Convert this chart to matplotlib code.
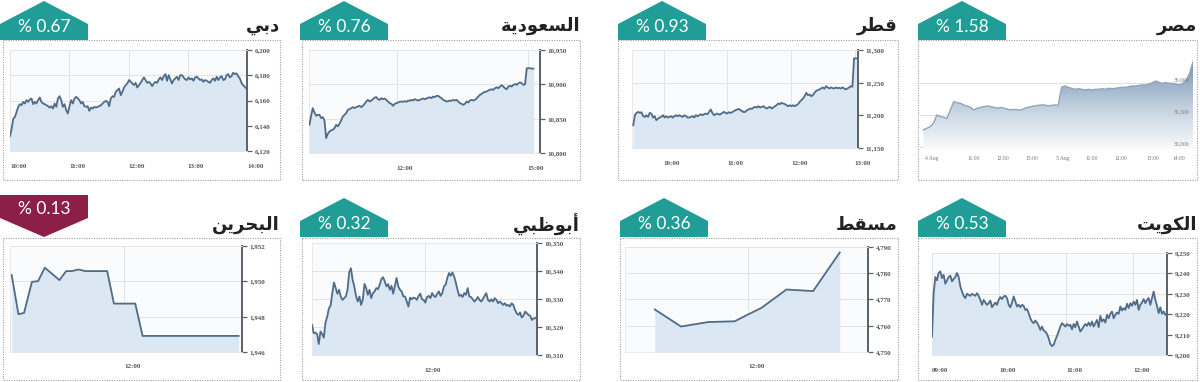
import numpy as np
import matplotlib
matplotlib.use("Agg")
import matplotlib.pyplot as plt
from matplotlib.patches import Polygon, Rectangle, PathPatch
from matplotlib.colors import LinearSegmentedColormap

W, H = 1200, 382

# ---------------- data ----------------
# titles: Arabic presentation forms in visual order (matplotlib does no shaping)
title_dubai = "\uFEF2\uFE91\uFEA9"                                   # دبي
title_saudi = "\uFE94\uFEF3\uFEA9\uFEEE\uFECC\uFEB4\uFEDF\uFE8D"     # السعودية
title_qatar = "\uFEAE\uFEC4\uFED7"                                   # قطر
title_egypt = "\uFEAE\uFEBC\uFEE3"                                   # مصر
title_bahrain = "\uFEE6\uFEF3\uFEAE\uFEA4\uFE92\uFEDF\uFE8D"         # البحرين
title_abudhabi = "\uFEF2\uFE92\uFEC7\uFEEE\uFE91\uFE83"              # أبوظبي
title_muscat = "\uFEC2\uFED8\uFEB4\uFEE3"                            # مسقط
title_kuwait = "\uFE96\uFEF3\uFEEE\uFEDC\uFEDF\uFE8D"                # الكويت

pct_dubai, pct_saudi, pct_qatar, pct_egypt = "% 0.67", "% 0.76", "% 0.93", "% 1.58"
pct_bahrain, pct_abudhabi, pct_muscat, pct_kuwait = "% 0.13", "% 0.32", "% 0.36", "% 0.53"

# Dubai: 10:00 -> ~14:00
dubai_vals = [6131.7, 6137.7, 6145.7, 6147.0, 6151.0, 6155.0, 6157.1, 6156.3, 6158.9, 6157.6,
              6160.3, 6158.9, 6160.8, 6161.6, 6157.1, 6158.9, 6157.6, 6160.3, 6162.4, 6158.9,
              6157.6, 6157.1, 6156.3, 6155.5, 6154.4, 6155.5, 6153.6, 6157.6, 6155.0, 6161.6,
              6163.4, 6160.3, 6155.0, 6157.1, 6152.3, 6149.7, 6155.5, 6160.3, 6157.6, 6161.6,
              6162.9, 6161.6, 6160.3, 6157.6, 6158.9, 6155.5, 6155.0, 6155.5, 6151.8, 6154.4,
              6153.6, 6155.0, 6154.4, 6155.0, 6155.5, 6156.3, 6157.6, 6158.9, 6159.7, 6158.9,
              6155.5, 6161.6, 6163.4, 6162.9, 6166.9, 6168.2, 6169.5, 6164.2, 6166.9, 6170.3,
              6172.2, 6173.5, 6176.2, 6174.8, 6173.5, 6172.2, 6174.0, 6170.3, 6172.2, 6174.0,
              6176.2, 6178.3, 6176.2, 6174.0, 6174.8, 6173.5, 6171.4, 6173.5, 6174.8, 6174.0,
              6176.7, 6178.3, 6176.2, 6179.3, 6180.9, 6175.6, 6180.1, 6176.7, 6173.5, 6176.2,
              6177.5, 6178.8, 6176.2, 6180.1, 6180.1, 6178.3, 6176.7, 6176.2, 6178.3, 6176.7,
              6177.5, 6175.6, 6178.3, 6178.8, 6177.5, 6176.2, 6176.7, 6174.8, 6176.2, 6175.6,
              6174.8, 6174.0, 6176.2, 6177.5, 6175.6, 6178.8, 6176.2, 6178.3, 6179.3, 6176.2,
              6176.7, 6180.1, 6180.9, 6178.3, 6179.3, 6182.0, 6180.9, 6181.5, 6179.3, 6177.5,
              6174.0, 6172.2, 6170.9, 6169.5]
dubai_t0, dubai_t1 = 10.0, 13.99
dubai_yticks = [6120, 6140, 6160, 6180, 6200]
dubai_xticks = [10, 11, 12, 13, 14]
dubai_xlabels = ["10:00", "11:00", "12:00", "13:00", "14:00"]

# Saudi: 10:00 -> ~15:08
saudi_vals = [10841.1, 10854.2, 10865.3, 10859.0, 10854.2, 10855.6, 10855.6, 10850.8, 10852.2, 10847.4,
              10821.7, 10828.0, 10831.4, 10832.9, 10833.8, 10836.3, 10841.1, 10838.7, 10842.6, 10847.4,
              10853.2, 10855.6, 10858.0, 10862.9, 10863.8, 10865.3, 10866.8, 10865.3, 10866.8, 10867.7,
              10868.7, 10866.8, 10868.7, 10871.6, 10875.0, 10877.4, 10875.0, 10876.4, 10878.4, 10880.8,
              10881.3, 10878.4, 10877.4, 10879.8, 10878.4, 10879.3, 10877.4, 10875.0, 10872.6, 10871.6,
              10868.7, 10871.6, 10872.6, 10873.5, 10874.5, 10875.0, 10874.5, 10875.5, 10874.5, 10876.4,
              10875.9, 10877.4, 10876.4, 10878.4, 10877.4, 10876.4, 10877.4, 10878.4, 10879.3, 10878.4,
              10879.3, 10880.3, 10881.3, 10879.8, 10882.2, 10881.3, 10883.2, 10883.2, 10881.3, 10879.8,
              10877.4, 10876.4, 10875.0, 10875.5, 10876.4, 10875.9, 10877.4, 10876.4, 10877.4, 10875.0,
              10872.6, 10871.6, 10870.1, 10871.6, 10875.0, 10873.5, 10876.4, 10877.4, 10876.4, 10877.4,
              10879.3, 10882.2, 10884.7, 10886.1, 10888.0, 10889.0, 10889.5, 10891.0, 10891.9, 10892.9,
              10891.9, 10894.3, 10895.8, 10894.3, 10896.8, 10898.7, 10896.8, 10894.3, 10892.9, 10896.8,
              10897.7, 10896.8, 10899.2, 10900.6, 10899.2, 10901.6, 10902.6, 10901.6, 10899.2, 10900.1,
              10923.4, 10923.4, 10923.4, 10922.9, 10922.9]
saudi_t0, saudi_t1 = 10.01, 15.13
saudi_yticks = [10800, 10850, 10900, 10950]
saudi_xticks = [12, 15]
saudi_xlabels = ["12:00", "15:00"]

# Qatar: 09:30 -> ~13:03
qatar_vals = [11184.8, 11200.2, 11203.7, 11205.3, 11203.7, 11204.8, 11198.6, 11197.6, 11200.2, 11197.6,
              11203.7, 11202.7, 11196.6, 11198.6, 11192.5, 11195.0, 11196.6, 11197.6, 11200.2, 11196.6,
              11198.6, 11196.6, 11197.6, 11198.6, 11196.6, 11198.6, 11200.2, 11198.6, 11200.2, 11198.6,
              11197.6, 11200.2, 11198.6, 11196.6, 11196.6, 11197.6, 11198.6, 11196.6, 11200.2, 11198.6,
              11200.2, 11201.7, 11200.2, 11201.7, 11202.7, 11201.7, 11205.3, 11208.9, 11203.7, 11200.2,
              11201.7, 11202.7, 11201.2, 11201.7, 11203.7, 11205.3, 11203.7, 11202.7, 11204.8, 11203.7,
              11204.8, 11206.3, 11207.8, 11208.9, 11209.9, 11207.8, 11206.8, 11204.8, 11205.3, 11207.8,
              11208.9, 11210.4, 11209.9, 11211.9, 11213.0, 11211.9, 11214.0, 11211.9, 11213.0, 11214.0,
              11211.9, 11210.4, 11211.9, 11213.0, 11210.4, 11211.9, 11214.0, 11215.5, 11218.1, 11217.1,
              11219.1, 11218.1, 11217.1, 11215.5, 11214.0, 11215.5, 11214.0, 11215.5, 11214.0, 11215.5,
              11217.1, 11220.6, 11223.2, 11225.8, 11229.3, 11234.5, 11230.9, 11231.9, 11229.3, 11230.9,
              11234.5, 11237.5, 11238.6, 11239.6, 11241.1, 11242.7, 11240.6, 11244.7, 11242.7, 11241.1,
              11242.7, 11241.6, 11241.1, 11242.7, 11241.6, 11242.1, 11241.1, 11242.7, 11241.1, 11239.6,
              11241.1, 11242.7, 11244.7, 11243.7, 11287.2, 11287.2, 11287.2]
qatar_t0, qatar_t1 = 9.52, 13.04
qatar_yticks = [11150, 11200, 11250, 11300]
qatar_xticks = [10, 11, 12, 13]
qatar_xlabels = ["10:00", "11:00", "12:00", "13:00"]

# Egypt (two sessions on an ordinal time axis)
egypt_vals = [35262, 35288, 35314, 35366, 35496, 35470, 35459, 35444, 35574, 35704,
              35688, 35678, 35652, 35636, 35615, 35574, 35600, 35615, 35626, 35636,
              35626, 35615, 35600, 35615, 35600, 35584, 35574, 35584, 35574, 35574,
              35600, 35615, 35626, 35636, 35646, 35652, 35652, 35636, 35646, 35652,
              35646, 35927, 35948, 35927, 35912, 35896, 35906, 35896, 35886, 35896,
              35886, 35896, 35896, 35906, 35896, 35912, 35906, 35912, 35922, 35927,
              35927, 35938, 35948, 35948, 35958, 35964, 35964, 35979, 36000, 36026,
              36000, 35990, 36000, 35990, 35990, 35979, 35964, 35990, 36042, 36146,
              36328]
egypt_t0, egypt_t1 = -0.05, 8.77
egypt_yticks = [35000, 35500, 36000]
egypt_xticks = [0.0, 1.4, 2.35, 3.3, 4.3, 5.25, 6.2, 7.25, 8.1]
egypt_xlabels = ["4 Aug", "11:00", "12:00", "13:00", "5 Aug", "11:00", "12:00", "13:00", "14:00"]

# Bahrain: sparse points
bahrain_t = [10.0, 10.12, 10.22, 10.36, 10.47, 10.59, 10.85, 10.97, 11.07, 11.19,
             11.31, 11.70, 11.82, 12.20, 12.33, 14.04]
bahrain_vals = [1950.35, 1948.14, 1948.21, 1949.97, 1950.01, 1950.77, 1950.07, 1950.58, 1950.58, 1950.67,
                1950.58, 1950.58, 1948.74, 1948.74, 1946.91, 1946.91]
bahrain_yticks = [1946, 1948, 1950, 1952]
bahrain_xticks = [12]
bahrain_xlabels = ["12:00"]

# Abu Dhabi: 10:00 -> 14:00
abudhabi_vals = [10320.8, 10317.8, 10318.0, 10317.5, 10313.9, 10318.4, 10317.5, 10316.2, 10321.6, 10323.7,
                 10326.7, 10327.6, 10332.1, 10335.9, 10333.9, 10331.9, 10333.3, 10330.9, 10329.7, 10330.3,
                 10330.9, 10333.3, 10339.5, 10341.0, 10336.9, 10334.5, 10331.1, 10329.1, 10330.9, 10327.9,
                 10329.7, 10335.4, 10333.9, 10331.5, 10333.3, 10330.3, 10332.1, 10332.7, 10333.9, 10333.5,
                 10335.1, 10337.1, 10337.8, 10336.3, 10334.5, 10335.3, 10333.3, 10334.7, 10331.9, 10334.7,
                 10337.5, 10334.5, 10333.3, 10332.7, 10330.9, 10330.9, 10329.1, 10327.3, 10330.5, 10329.9,
                 10330.5, 10330.3, 10329.7, 10331.1, 10331.9, 10329.9, 10329.7, 10328.7, 10330.7, 10331.1,
                 10330.3, 10332.1, 10331.1, 10330.7, 10331.9, 10332.7, 10331.1, 10332.1, 10334.5, 10335.1,
                 10337.5, 10339.3, 10338.3, 10339.5, 10338.1, 10335.9, 10333.3, 10331.1, 10331.5, 10330.7,
                 10332.1, 10331.5, 10333.9, 10330.9, 10330.7, 10329.9, 10329.1, 10329.7, 10330.7, 10329.7,
                 10329.1, 10329.9, 10331.1, 10332.1, 10329.7, 10329.1, 10329.9, 10329.1, 10330.3, 10329.7,
                 10328.5, 10329.1, 10328.5, 10327.9, 10328.5, 10327.6, 10327.9, 10327.3, 10328.5, 10327.9,
                 10326.1, 10324.9, 10324.3, 10325.2, 10323.4, 10324.0, 10325.5, 10324.9, 10324.3, 10324.0,
                 10322.5, 10323.1, 10323.1, 10323.7]
abudhabi_t0, abudhabi_t1 = 10.0, 14.0
abudhabi_yticks = [10310, 10320, 10330, 10340, 10350]
abudhabi_xticks = [12]
abudhabi_xlabels = ["12:00"]

# Muscat: sparse points
muscat_t = [10.25, 10.74, 11.25, 11.75, 11.97, 12.25, 12.72, 13.22, 13.72]
muscat_vals = [4766.2, 4759.7, 4761.4, 4761.7, 4764.0, 4766.8, 4773.8, 4773.2, 4787.9]
muscat_yticks = [4750, 4760, 4770, 4780, 4790]
muscat_xticks = [12]
muscat_xlabels = ["12:00"]

# Kuwait: 09:00 -> 12:30
kuwait_vals = [9209.0, 9230.3, 9238.2, 9236.6, 9240.2, 9241.0, 9237.7, 9239.3, 9234.9, 9236.6,
               9238.2, 9238.9, 9236.1, 9237.2, 9238.2, 9240.2, 9238.2, 9233.6, 9231.1, 9229.0,
               9227.9, 9230.0, 9229.5, 9229.0, 9230.0, 9229.5, 9229.0, 9230.3, 9229.0, 9227.0,
               9224.6, 9227.0, 9225.7, 9224.6, 9225.4, 9226.7, 9223.4, 9224.6, 9225.7, 9224.6,
               9227.0, 9228.4, 9227.4, 9228.7, 9229.0, 9227.9, 9224.6, 9223.4, 9225.7, 9228.7,
               9226.2, 9223.8, 9224.6, 9223.4, 9224.6, 9224.1, 9222.1, 9222.5, 9220.5, 9218.0,
               9216.4, 9215.6, 9216.9, 9215.9, 9214.3, 9212.3, 9213.9, 9212.0, 9211.5, 9210.3,
               9208.2, 9205.4, 9204.4, 9204.9, 9207.4, 9209.3, 9211.5, 9213.9, 9215.6, 9214.8,
               9213.9, 9215.2, 9214.3, 9214.8, 9212.6, 9215.2, 9213.6, 9216.4, 9213.9, 9211.5,
               9212.6, 9213.9, 9215.2, 9214.3, 9215.9, 9214.3, 9216.4, 9213.9, 9215.6, 9217.2,
               9213.6, 9219.2, 9216.4, 9217.5, 9215.9, 9219.7, 9218.0, 9220.2, 9221.3, 9218.0,
               9219.7, 9220.8, 9220.2, 9223.8, 9221.8, 9223.0, 9222.1, 9225.1, 9223.0, 9225.4,
               9224.1, 9226.2, 9224.6, 9227.0, 9222.1, 9224.6, 9225.7, 9227.4, 9225.4, 9227.0,
               9227.9, 9224.6, 9227.9, 9231.1, 9227.0, 9224.1, 9220.5, 9223.4, 9220.2, 9221.3,
               9219.7, 9220.5]
kuwait_t0, kuwait_t1 = 9.0, 12.5
kuwait_yticks = [9200, 9210, 9220, 9230, 9240, 9250]
kuwait_xticks = [9, 10, 11, 12]
kuwait_xlabels = ["09:00", "10:00", "11:00", "12:00"]

# ---------------- styling ----------------
TEAL = "#1f9d96"
MAROON = "#8c1f45"
LINE = "#4f6b88"
FILL = "#dbe8f4"
GRID = "#e3e3e3"
AXIS = "#5b6066"
TICKFONT = "Liberation Serif"

fig = plt.figure(figsize=(12, 3.82), dpi=100)
fig.patch.set_facecolor("white")

ov = fig.add_axes([0, 0, 1, 1])
ov.set_xlim(0, W)
ov.set_ylim(H, 0)
ov.axis("off")


def px_axes(l, t, r, b):
    return fig.add_axes([l / W, 1 - b / H, (r - l) / W, (b - t) / H])


def frame(l, t, r, b):
    ov.add_patch(Rectangle((l, t), r - l, b - t, fill=False, ec="#a0a0a0",
                           lw=0.8, ls=(0, (1, 1.2))))


def badge(l, bottom, text, up=True, w=88):
    if up:
        pts = [(l, bottom), (l, bottom - 16), (l + w / 2, bottom - 39),
               (l + w, bottom - 16), (l + w, bottom)]
        ty = bottom - 13
        col = TEAL
    else:
        pts = [(l, bottom - 42), (l + w, bottom - 42), (l + w, bottom - 19),
               (l + w / 2, bottom), (l, bottom - 19)]
        ty = bottom - 28
        col = MAROON
    ov.add_patch(Polygon(pts, closed=True, fc=col, ec="none"))
    ov.text(l + w / 2, ty, text, color="white", fontsize=12.5, family="Lato",
            ha="center", va="center")


def title(r, y, text):
    ov.text(r, y, text, fontsize=13, fontweight="bold", color="#222222",
            family="DejaVu Sans", ha="right", va="center")


def chart(ax, t, v, xlim, ylim, yticks, xticks, xlabels):
    ax.set_facecolor("#fafbfc")
    ax.fill_between(t, v, ylim[0], color=FILL, lw=0, zorder=1)
    ax.plot(t, v, color=LINE, lw=1.3, zorder=3, solid_joinstyle="round")
    ax.set_xlim(xlim)
    ax.set_ylim(ylim)
    ax.yaxis.tick_right()
    ax.set_yticks(yticks)
    ax.set_yticklabels([f"{y:,}" for y in yticks])
    ax.set_xticks(xticks)
    ax.set_xticklabels(xlabels, ha="left")
    ax.grid(True, color=GRID, lw=0.7)
    ax.set_axisbelow(True)
    for s in ["top", "left", "bottom"]:
        ax.spines[s].set_color("#e6e6e6")
        ax.spines[s].set_linewidth(0.6)
    ax.spines["right"].set_color(AXIS)
    ax.spines["right"].set_linewidth(1.4)
    ax.tick_params(axis="y", length=3.5, width=0.9, color=AXIS, pad=2,
                   labelsize=5, labelcolor="#555555")
    ax.tick_params(axis="x", length=0, pad=9, labelsize=5, labelcolor="#555555")
    for lab in ax.get_xticklabels() + ax.get_yticklabels():
        lab.set_fontfamily(TICKFONT)
        lab.set_fontweight("bold")


# ---------------- top row ----------------
top_panels = [
    (3, 280, 0, title_dubai, pct_dubai),
    (302, 580, 300, title_saudi, pct_saudi),
    (618, 898, 618, title_qatar, pct_qatar),
    (918, 1197, 918, title_egypt, pct_egypt),
]
for l, r, bl, ttl, pct in top_panels:
    frame(l, 40, r, 180)
    badge(bl, 40, pct, up=True)
    title(r, 26, ttl)

ax = px_axes(10, 50, 247, 151)
chart(ax, np.linspace(dubai_t0, dubai_t1, len(dubai_vals)), dubai_vals,
      (10, 14), (6120, 6200), dubai_yticks, dubai_xticks, dubai_xlabels)

ax = px_axes(309, 50, 540, 153)
chart(ax, np.linspace(saudi_t0, saudi_t1, len(saudi_vals)), saudi_vals,
      (10, 15.28), (10800, 10950), saudi_yticks, saudi_xticks, saudi_xlabels)

ax = px_axes(632, 50, 858, 148)
chart(ax, np.linspace(qatar_t0, qatar_t1, len(qatar_vals)), qatar_vals,
      (9.5, 13.05), (11150, 11300), qatar_yticks, qatar_xticks, qatar_xlabels)

# Egypt: gradient area, labels inside
ax = px_axes(920, 48, 1193, 150)
ax.set_facecolor("white")
et = np.linspace(egypt_t0, egypt_t1, len(egypt_vals))
e_ylim = (34950, 36540)
e_xlim = (-0.16, 8.77)
cmap = LinearSegmentedColormap.from_list("eg", ["#fbfcfd", "#c2d0de", "#7895b3"])
grad = np.linspace(1, 0, 256).reshape(-1, 1)
im = ax.imshow(grad, aspect="auto", cmap=cmap, origin="upper",
               extent=[e_xlim[0], e_xlim[1], e_ylim[0], 36300], zorder=1)
poly = ax.fill_between(et, egypt_vals, e_ylim[0], color="none", lw=0)
clip = PathPatch(poly.get_paths()[0], transform=ax.transData, fc="none", ec="none")
ax.add_patch(clip)
im.set_clip_path(clip)
ax.plot(et, egypt_vals, color="#8ea6be", lw=1.0, zorder=3)
ax.set_xlim(e_xlim)
ax.set_ylim(e_ylim)
ax.set_yticks(egypt_yticks)
ax.set_yticklabels([])
ax.set_xticks(egypt_xticks)
ax.set_xticklabels(egypt_xlabels, ha="left")
ax.grid(True, axis="y", color="#dedede", lw=0.7)
ax.set_axisbelow(True)
for s in ax.spines.values():
    s.set_visible(False)
ax.tick_params(axis="y", length=0)
ax.tick_params(axis="x", length=0, pad=4, labelsize=4, labelcolor="#777777")
for lab in ax.get_xticklabels():
    lab.set_fontfamily(TICKFONT)
for y in egypt_yticks:
    ax.text(0.985, y, f"{y:,}", transform=ax.get_yaxis_transform(), ha="right",
            va="bottom", fontsize=4, color="#777777", family=TICKFONT, zorder=5)

# ---------------- bottom row ----------------
bottom_panels = [
    (3, 280, 0, title_bahrain, pct_bahrain, False),
    (302, 580, 300, title_abudhabi, pct_abudhabi, True),
    (620, 898, 620, title_muscat, pct_muscat, True),
    (918, 1197, 918, title_kuwait, pct_kuwait, True),
]
for l, r, bl, ttl, pct, up in bottom_panels:
    frame(l, 238, r, 380)
    badge(bl, 237, pct, up=up)
    title(r, 225, ttl)

ax = px_axes(10, 246, 242, 352)
chart(ax, bahrain_t, bahrain_vals, (9.97, 14.1), (1946, 1952),
      bahrain_yticks, bahrain_xticks, bahrain_xlabels)

ax = px_axes(312, 243, 537, 355)
chart(ax, np.linspace(abudhabi_t0, abudhabi_t1, len(abudhabi_vals)), abudhabi_vals,
      (10, 14), (10310, 10350), abudhabi_yticks, abudhabi_xticks, abudhabi_xlabels)

ax = px_axes(625, 247, 868, 352)
chart(ax, muscat_t, muscat_vals, (9.69, 14.25), (4750, 4790),
      muscat_yticks, muscat_xticks, muscat_xlabels)

ax = px_axes(932, 253, 1167, 355)
chart(ax, np.linspace(kuwait_t0, kuwait_t1, len(kuwait_vals)), kuwait_vals,
      (9, 12.5), (9200, 9250), kuwait_yticks, kuwait_xticks, kuwait_xlabels)

fig.savefig("out.png", dpi=100, facecolor="white")
